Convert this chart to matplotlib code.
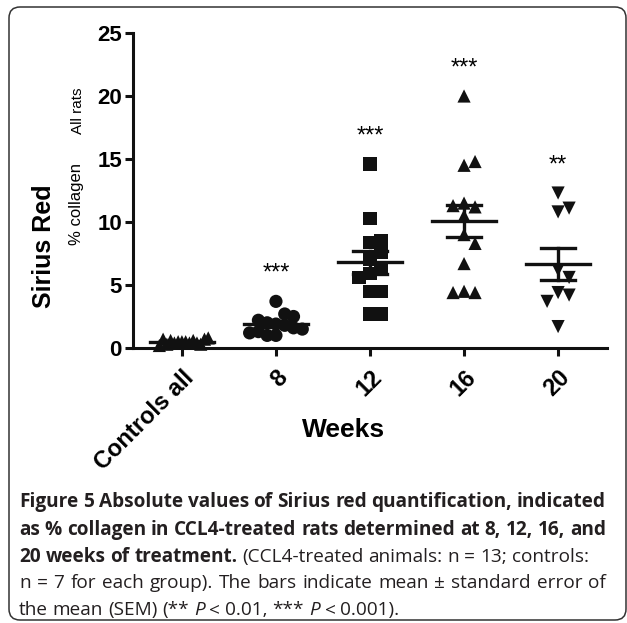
import numpy as np
import matplotlib.pyplot as plt
from matplotlib.patches import FancyBboxPatch
from matplotlib.transforms import IdentityTransform

plt.rcParams['font.family'] = ['Liberation Sans', 'DejaVu Sans']

# data (% collagen per animal)
groups = ['Controls all', '8', '12', '16', '20']
controls = [0.5, 0.3, 0.6, 0.4, 0.7, 0.5, 0.2, 0.8, 0.4, 0.6, 0.3, 0.5, 0.7, 0.4]
week8 = [3.7, 2.7, 2.5, 2.2, 2.0, 1.9, 1.8, 1.6, 1.5, 1.3, 1.2, 1.0, 1.0]
week12 = [14.6, 10.3, 8.5, 8.4, 7.6, 7.0, 6.2, 5.9, 5.6, 4.5, 4.5, 2.7, 2.7]
week16 = [20.0, 14.8, 14.5, 11.5, 11.3, 11.2, 10.5, 9.0, 8.3, 6.7, 4.5, 4.4, 4.4]
week20 = [12.3, 11.1, 10.8, 6.2, 5.6, 4.4, 4.2, 3.7, 1.7]
signif = ['', '***', '***', '***', '**']
markers = ['^', 'o', 's', '^', 'v']
yticks = [0, 5, 10, 15, 20, 25]

series = [controls, week8, week12, week16, week20]

W, H = 627, 623
fig = plt.figure(figsize=(W / 100, H / 100), dpi=100)
ax = fig.add_axes([133 / W, 275 / H, 474 / W, 315 / H])
ax.set_xlim(-0.52, 4.52)
ax.set_ylim(0, 25)

# pixel scale of data units, for a simple column-scatter layout
p0 = ax.transData.transform((0, 0))
p1 = ax.transData.transform((1, 1))
px_x, px_y = p1[0] - p0[0], p1[1] - p0[1]
msize = 9.5          # points
gap = 11.0           # px between marker centres
max_spread = 0.28    # column half-width, data units


def swarm(vals):
    step = gap / px_x
    placed, offs = [], []
    cands = [0]
    for i in range(1, 20):
        cands += [i * step, -i * step]
    for v in vals:
        for o in cands:
            if all(np.hypot((o - po) * px_x, (v - pv) * px_y) >= gap for po, pv in placed):
                break
        placed.append((o, v))
        offs.append(o)
    offs = np.array(offs)
    widest = np.abs(offs).max()
    if widest > max_spread:
        offs = offs * max_spread / widest
    return offs


for i, vals in enumerate(series):
    vals = np.array(vals)
    order = np.argsort(np.abs(vals - vals.mean()))
    v_sorted = vals[order]
    offs = swarm(v_sorted)
    ax.scatter(i + offs, v_sorted, marker=markers[i], s=msize ** 2, color='#111111',
               edgecolors='none', clip_on=False, zorder=3)
    m = vals.mean()
    sem = vals.std(ddof=1) / np.sqrt(len(vals))
    ax.plot([i - 0.34, i + 0.34], [m, m], color='#111111', lw=2.4, zorder=4, clip_on=False)
    ax.plot([i - 0.18, i + 0.18], [m + sem] * 2, color='#111111', lw=2.4, zorder=4)
    ax.plot([i - 0.18, i + 0.18], [m - sem] * 2, color='#111111', lw=2.4, zorder=4)
    ax.plot([i, i], [m - sem, m + sem], color='#111111', lw=2.4, zorder=4)
    if signif[i]:
        ax.text(i, vals.max() + 2.2, signif[i], ha='center', va='center', fontsize=17)

for s in ['top', 'right']:
    ax.spines[s].set_visible(False)
for s in ['left', 'bottom']:
    ax.spines[s].set_linewidth(2.2)
    ax.spines[s].set_color('#111111')

ax.set_yticks(yticks)
ax.set_xticks(range(len(groups)))
ax.set_xticklabels(groups, rotation=45, ha='right', rotation_mode='anchor')
ax.tick_params(axis='both', length=6, width=2.2, color='#111111')
ax.tick_params(axis='y', pad=2, labelsize=16)
ax.tick_params(axis='x', pad=7, labelsize=17)
for lab in ax.get_xticklabels() + ax.get_yticklabels():
    lab.set_fontweight('bold')

fig.text(344 / W, 1 - 430 / H, 'Weeks', ha='center', va='center', fontsize=19, fontweight='bold')

# y label: "Sirius Red" with subscript and a second line
fig.text(44 / W, 1 - 246 / H, 'Sirius Red', rotation=90, ha='center', va='center',
         fontsize=18, fontweight='bold')
fig.text(78 / W, 1 - 111 / H, 'All rats', rotation=90, ha='center', va='center', fontsize=11)
fig.text(77 / W, 1 - 204 / H, '% collagen', rotation=90, ha='center', va='center', fontsize=12)

# rounded border around figure + caption
box = FancyBboxPatch((9, 3), 617, 613, boxstyle='round,pad=0,rounding_size=11',
                     transform=IdentityTransform(), fill=False, lw=1.1, ec='#333333')
fig.add_artist(box)

# caption with mixed weights, justified like the journal layout
cap_font = ['Open Sans', 'DejaVu Sans']
cap_lines = [
    [('Figure 5 Absolute values of Sirius red quantification, indicated', 'bold', 'normal')],
    [('as % collagen in CCL4-treated rats determined at 8, 12, 16, and', 'bold', 'normal')],
    [('20 weeks of treatment.', 'bold', 'normal'),
     ('(CCL4-treated animals: n = 13; controls:', 'normal', 'normal')],
    [('n = 7 for each group). The bars indicate mean \u00b1 standard error of', 'normal', 'normal')],
    [('the mean (SEM) (**', 'normal', 'normal'), ('P', 'normal', 'italic'),
     ('< 0.01, ***', 'normal', 'normal'), ('P', 'normal', 'italic'),
     ('< 0.001).', 'normal', 'normal')],
]
justify = [True, True, False, True, False]
cap_y = [502, 530, 557, 583, 610]
cap_x0, cap_x1 = 19, 606

fig.canvas.draw()
r = fig.canvas.get_renderer()


def text_w(s, fs, **kw):
    t = fig.text(0, 0, s, fontsize=fs, family=cap_font, **kw)
    w = t.get_window_extent(r).width
    t.remove()
    return w


def words_of(segs):
    out = []
    for s, wgt, sty in segs:
        for wd in s.split(' '):
            out.append((wd, wgt, sty))
    return out


# font size: largest size (up to 14 pt) at which every line fits with normal spaces
fs = 14
for _ in range(2):
    sp = text_w('x x', fs) - text_w('xx', fs)
    widest = 0
    for segs in cap_lines:
        wl = words_of(segs)
        tot = sum(text_w(wd, fs, fontweight=wg, fontstyle=st) for wd, wg, st in wl)
        widest = max(widest, tot + sp * (len(wl) - 1))
    fs = min(14, fs * (cap_x1 - cap_x0) / widest)
sp = text_w('x x', fs) - text_w('xx', fs)

for segs, yy, just in zip(cap_lines, cap_y, justify):
    wl = words_of(segs)
    widths = [text_w(wd, fs, fontweight=wg, fontstyle=st) for wd, wg, st in wl]
    gap_w = sp
    if just:
        gap_w = (cap_x1 - cap_x0 - sum(widths)) / (len(wl) - 1)
    x = cap_x0
    for (wd, wg, st), w in zip(wl, widths):
        fig.text(x / W, 1 - yy / H, wd, fontsize=fs, fontweight=wg, fontstyle=st,
                 family=cap_font, color='#231f20', va='center', ha='left')
        x += w + gap_w

fig.savefig('out.png', dpi=100)
